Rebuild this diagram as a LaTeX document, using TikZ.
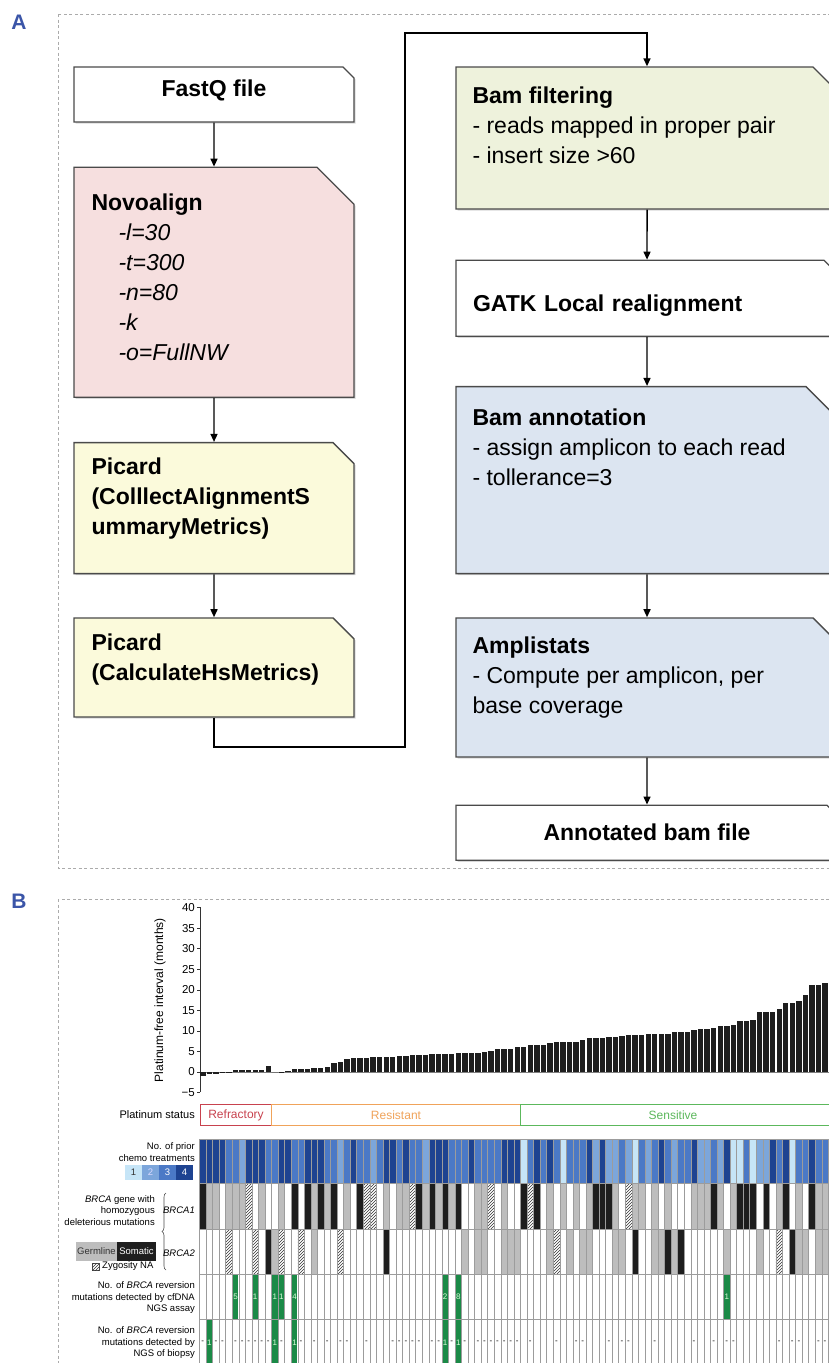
\documentclass[tikz,border=0pt]{standalone}
\usepackage{fontspec}
\setmainfont{Liberation Sans}
\usetikzlibrary{arrows.meta,positioning,shapes.misc,shadows,patterns,decorations.pathreplacing}

\definecolor{panelblue}{HTML}{3B55A8}
\definecolor{framegray}{HTML}{ABABAB}
\definecolor{boxedge}{HTML}{4A4A4A}
\definecolor{novopink}{HTML}{F6DFDF}
\definecolor{picardyellow}{HTML}{FBFADB}
\definecolor{filtgreen}{HTML}{EEF2DC}
\definecolor{annoblue}{HTML}{DCE5F1}
\definecolor{chemoone}{HTML}{C6E5F7}
\definecolor{chemotwo}{HTML}{7CA6DB}
\definecolor{chemothree}{HTML}{4B79C6}
\definecolor{chemofour}{HTML}{1E4391}
\definecolor{germgray}{HTML}{BDBDBD}
\definecolor{somablack}{HTML}{1E1E1E}
\definecolor{gridgray}{HTML}{9C9C9C}
\definecolor{revgreen}{HTML}{1B8A47}
\definecolor{refred}{HTML}{C8424E}
\definecolor{resorange}{HTML}{F0A35A}
\definecolor{sensgreen}{HTML}{5CB85C}

% invisible filler, so that the cut corner is not capped
\newcommand\stepspace[2]{\rule{0pt}{#2}\hspace*{#1}}

\tikzset {
  % pipeline boxes (panel A)
  stepbox/.style = {
    chamfered rectangle,
    chamfered rectangle corners = north east,
    draw = boxedge,
    line width = 1.3pt,
    inner sep = 0pt,
    drop shadow = {shadow xshift = 1.6pt, shadow yshift = -1.6pt, opacity = .3},
    font = \bfseries\fontsize{23}{30}\selectfont
  },
  % size of the cut corner (drawn twice as large)
  dogear/.style = {
    chamfered rectangle xsep = #1,
    chamfered rectangle ysep = #1
  },
  % text block inside a box
  steptext/.style = {
    inner sep = 0pt,
    align = left,
    font = \fontsize{23}{30}\selectfont
  },
  flow/.style = {
    draw = black,
    line width = 1.4pt,
    -{Triangle[length = 8pt, width = 7pt]}
  },
  frame/.style = {
    draw = framegray,
    line width = .8pt,
    dash pattern = on 3pt off 2.5pt
  },
  panel/.style = {
    text = panelblue,
    font = \bfseries\fontsize{21}{21}\selectfont
  }
}
\tikzset {
  % heat map cells (panel B)
  chemo1/.style = {fill = chemoone},
  chemo2/.style = {fill = chemotwo},
  chemo3/.style = {fill = chemothree},
  chemo4/.style = {fill = chemofour},
  mut0/.style = {},
  mut1/.style = {fill = germgray},
  mut2/.style = {fill = somablack},
  mut3/.style = {
    fill = white,
    postaction = {pattern = north east lines, pattern color = black!80}
  },
  cell line/.style = {draw = gridgray, line width = .5pt},
  tick label/.style = {
    anchor = east,
    inner sep = 0pt,
    font = \fontsize{11.5}{12}\selectfont
  },
  row label/.style = {
    inner sep = 0pt,
    align = right,
    font = \fontsize{9.5}{11.6}\selectfont
  },
  status/.style = {
    inner sep = 0pt,
    font = \fontsize{12}{12}\selectfont
  },
  rev count/.style = {
    inner sep = 0pt,
    text = white!85!green,
    font = \fontsize{8}{8}\selectfont
  },
  no biopsy/.style = {
    inner sep = 0pt,
    font = \fontsize{8}{8}\selectfont
  }
}

\begin{document}
\begin{tikzpicture}[x = 1pt, y = -1pt]
  \useasboundingbox (0,0) rectangle (829,1363);
  \clip (0,0) rectangle (829,1363);
  \fill[white] (0,0) rectangle (829,1363);

  % ---------------- panel A ----------------
  \node[panel] (lbl-a) at (19,22) {A};
  \draw[frame] (58,14) rectangle (850,868);

  % left column
  \node[stepbox, dogear = 5.5pt, fill = white, minimum width = 280pt,
    minimum height = 55pt, text height = 16pt, text depth = 13pt]
    (fastq) at (214,94.5) {FastQ file};

  \node[stepbox, dogear = 18.5pt, fill = novopink, minimum width = 280pt,
    minimum height = 230pt] (novo) [below=44pt of fastq] {\stepspace{200pt}{150pt}};
  \node[steptext] (novo-text) [below right=27pt and 18pt of novo.north west]
    {\textbf{Novoalign}\\
     \hspace*{27pt}\textit{-l=30}\\
     \hspace*{27pt}\textit{-t=300}\\
     \hspace*{27pt}\textit{-n=80}\\
     \hspace*{27pt}\textit{-k}\\
     \hspace*{27pt}\textit{-o=FullNW}};

  \node[stepbox, dogear = 10.5pt, fill = picardyellow, minimum width = 280pt,
    minimum height = 131pt] (picard-a) [below=44pt of novo] {\stepspace{200pt}{90pt}};
  \node[steptext, font = \bfseries\fontsize{23}{30}\selectfont] (picard-a-text)
    [below right=16pt and 18pt of picard-a.north west]
    {Picard\\(ColllectAlignmentS\\ummaryMetrics)};

  \node[stepbox, dogear = 10.5pt, fill = picardyellow, minimum width = 280pt,
    minimum height = 99pt] (picard-b) [below=43pt of picard-a] {\stepspace{200pt}{70pt}};
  \node[steptext, font = \bfseries\fontsize{23}{30}\selectfont] (picard-b-text)
    [below right=16pt and 18pt of picard-b.north west]
    {Picard\\(CalculateHsMetrics)};

  % right column
  \node[stepbox, dogear = 12.5pt, fill = filtgreen, minimum width = 382pt,
    minimum height = 142pt] (filt) at (647,138) {\stepspace{300pt}{100pt}};
  \node[steptext] (filt-text) [below right=20pt and 17pt of filt.north west]
    {\textbf{Bam filtering}\\- reads mapped in proper pair\\- insert size >60};

  \node[stepbox, dogear = 7pt, fill = white, minimum width = 382pt,
    minimum height = 76pt, text width = 348pt, align = left,
    text height = 26pt, text depth = 0pt] (gatk) [below=50pt of filt]
    {GATK Local realignment};

  \node[stepbox, dogear = 16pt, fill = annoblue, minimum width = 382pt,
    minimum height = 187pt] (anno) [below=49pt of gatk] {\stepspace{300pt}{140pt}};
  \node[steptext] (anno-text) [below right=23pt and 17pt of anno.north west]
    {\textbf{Bam annotation}\\- assign amplicon to each read\\- tollerance=3};

  \node[stepbox, dogear = 12.5pt, fill = annoblue, minimum width = 382pt,
    minimum height = 139pt] (ampli) [below=43pt of anno] {\stepspace{300pt}{100pt}};
  \node[steptext] (ampli-text) [below right=19pt and 17pt of ampli.north west]
    {\textbf{Amplistats}\\- Compute per amplicon, per\\base coverage};

  \node[stepbox, dogear = 5.5pt, fill = white, minimum width = 382pt,
    minimum height = 55pt] (annot) [below=47pt of ampli] {Annotated bam file};

  \coordinate (rail-low) at (405,747);
  \coordinate (rail-top) at (647,33);

  % main line
  \draw[flow] (fastq) -- (novo);
  \draw[flow] (novo) -- (picard-a);
  \draw[flow] (picard-a) -- (picard-b);
  \draw[flow] (picard-b) |- (rail-low) |- (rail-top) -- (filt);
  \draw[flow] (filt) -- (gatk);
  \draw[flow] (gatk) -- (anno);
  \draw[flow] (anno) -- (ampli);
  \draw[flow] (ampli) -- (annot);

  % ---------------- panel B ----------------
  \node[panel] (lbl-b) at (19,901) {B};
  \draw[frame] (58,899) rectangle (850,1400);

  % y axis
  \draw[black!80, line width = .6pt] (200,907) -- (200,1092);
  \foreach \t/\lab in {40/40,35/35,30/30,25/25,20/20,15/15,10/10,5/5,0/0,-5/−5} {
    \draw[black!80, line width = .6pt] (197,{1072-4.11*\t}) -- (200,{1072-4.11*\t});
    \node[tick label] (tick\t) at (195,{1072-4.11*\t}) {\lab};
  }
  \node[rotate = 90, inner sep = 0pt, font = \fontsize{12}{12}\selectfont]
    (pfi-label) at (160,1000) {Platinum-free interval (months)};
  \draw[gray, line width = .5pt] (200,1072) -- (835,1072);

  % bars
  \foreach \v [count=\i from 0] in {-0.9,-0.5,-0.4,-0.3,-0.2,0.5,0.5,0.5,0.6,0.6,1.4,
      0,0.1,0.3,0.7,0.7,0.8,0.9,0.9,1.2,2.1,2.5,
      3.2,3.5,3.5,3.5,3.6,3.6,3.7,3.7,3.8,4.0,4.1,4.1,
      4.2,4.3,4.3,4.4,4.5,4.6,4.6,4.6,4.6,4.8,5.2,5.5,5.5,5.7,6.0,
      6.2,6.6,6.6,6.6,7.0,7.2,7.4,7.4,7.4,7.8,8.2,8.2,8.2,8.4,8.4,
      8.7,9.0,9.0,9.0,9.2,9.2,9.3,9.3,9.7,9.7,9.7,10.2,10.4,10.4,10.7,
      11.1,11.1,11.5,12.4,12.4,12.7,14.5,14.5,14.5,15.4,16.8,16.8,17.3,18.8,21.1,21.1,21.6,21.6} {
    \fill[somablack] (200.1+6.55*\i,1072) rectangle ++(5.4,{-4.11*(\v)});
  }

  % platinum status
  \node[row label, anchor = east, font = \fontsize{11}{12}\selectfont]
    (status-label) at (195,1115) {Platinum status};
  \draw[refred, line width = 1pt] (200,1104) rectangle (271.5,1125);
  \draw[resorange, line width = 1pt] (271.5,1104) rectangle (520.5,1125);
  \draw[sensgreen, line width = 1pt] (520.5,1104) rectangle (840,1125);
  \node[status, text = refred] (refractory) at (236,1115) {Refractory};
  \node[status, text = resorange] (resistant) at (396,1115) {Resistant};
  \node[status, text = sensgreen] (sensitive) at (673,1115) {Sensitive};

  % prior chemo treatments
  \foreach \c [count=\i from 0] in {4,4,4,4,3,3,2,4,4,4,3,3,4,4,3,3,4,4,4,3,3,2,3,4,3,3,2,3,4,4,3,4,
      3,3,2,4,4,4,3,3,3,4,3,3,3,3,4,4,4,1,3,4,3,4,3,1,3,3,3,4,2,4,2,2,
      3,2,1,3,2,3,4,3,2,3,3,4,2,2,3,2,4,1,1,3,1,2,2,4,3,4,1,3,3,4,3,3,3} {
    \path[chemo\c] (199.5+6.55*\i,1139) rectangle ++(6.55,44);
  }
  % BRCA1
  \foreach \b [count=\i from 0] in {2,1,1,0,1,1,1,3,0,1,0,0,1,0,2,0,2,1,2,1,2,0,1,0,2,3,3,0,1,0,1,1,
      3,2,1,2,1,2,1,2,0,0,1,1,3,0,1,0,0,2,3,2,0,1,0,1,0,1,0,1,2,2,2,1,
      0,3,1,1,0,1,0,1,0,0,0,1,1,1,2,1,0,1,2,2,2,0,2,0,1,2,0,1,0,2,1,1,1} {
    \path[mut\b] (199.5+6.55*\i,1183) rectangle ++(6.55,46);
  }
  % BRCA2
  \foreach \b [count=\i from 0] in {0,0,0,0,3,0,0,0,3,0,2,1,3,0,0,3,0,1,0,0,0,3,0,0,0,0,0,0,2,0,0,0,
      0,0,0,0,0,0,0,0,1,0,1,1,0,0,1,1,1,0,0,0,0,1,3,0,1,0,1,1,0,0,0,1,
      1,0,2,0,0,1,1,2,1,2,0,0,0,0,0,0,1,0,0,0,0,1,0,0,3,0,2,1,1,0,1,1,1} {
    \path[mut\b] (199.5+6.55*\i,1229) rectangle ++(6.55,45);
  }
  % reversion mutations
  \foreach \i/\n in {5/5,8/1,11/1,12/1,14/4,37/2,39/8,80/1} {
    \fill[revgreen] (199.9+6.55*\i,1274) rectangle ++(5.75,45);
  }
  \foreach \i in {1,11,14,37,39} {
    \fill[revgreen] (199.9+6.55*\i,1319) rectangle ++(5.75,50);
  }

  % cell lines
  \foreach \i in {0,...,97} {
    \draw[cell line] (199.5+6.55*\i,1139) -- ++(0,240);
  }
  \foreach \y in {1139,1183,1229,1274,1319} {
    \draw[cell line] (199.5,\y) -- (840,\y);
  }

  \foreach \i/\n in {5/5,8/1,11/1,12/1,14/4,37/2,39/8,80/1} {
    \node[rev count] (cf\i) at (202.8+6.55*\i,1297) {\n};
  }
  \foreach \i in {1,11,14,37,39} {
    \node[rev count] (bx\i) at (202.8+6.55*\i,1342.5) {1};
  }
  \foreach \i in {0,2,3,5,6,7,8,9,10,12,15,17,19,21,22,25,29,30,31,32,33,35,36,38,
      40,42,43,44,45,46,47,48,50,54,57,58,62,64,65,69,75,78,80,81,88,90,91,94,95} {
    \node[no biopsy] (nb\i) at (202.8+6.55*\i,1342) {-};
  }

  % row labels and legends
  \node[row label, anchor = north east] (chemo-label) at (195,1142.5)
    {No. of prior\\chemo treatments};
  \foreach \c/\col [count=\k from 0] in {1/chemoone,2/chemotwo,3/chemothree,4/chemofour} {
    \fill[\col] (125+17*\k,1165) rectangle ++(17,15);
  }
  \node[row label, text = black!80] (key1) at (133.5,1172.5) {1};
  \node[row label, text = white!85!blue] (key2) at (150.5,1172.5) {2};
  \node[row label, text = white] (key3) at (167.5,1172.5) {3};
  \node[row label, text = white] (key4) at (184.5,1172.5) {4};

  \node[row label, anchor = north east] (brca-label) at (155,1195)
    {\textit{BRCA} gene with\\homozygous\\deleterious mutations};
  \draw[black!70, line width = .6pt, decorate, decoration = {brace, amplitude = 4pt}]
    (166,1270) -- (166,1193);
  \node[row label, anchor = east] (brca1-label) at (195,1210) {\textit{BRCA1}};
  \node[row label, anchor = east] (brca2-label) at (195,1253) {\textit{BRCA2}};

  \fill[germgray] (76,1242) rectangle (117,1261);
  \fill[somablack] (117,1242) rectangle (156,1261);
  \node[row label, text = black!80] (germline) at (96.5,1251.5) {Germline};
  \node[row label, text = white] (somatic) at (136.5,1251.5) {Somatic};
  \path[mut3, draw = black!70, line width = .4pt] (92,1263) rectangle (99,1270);
  \node[row label, anchor = west] (zygosity) at (102,1266.5) {Zygosity NA};

  \node[row label, anchor = north east] (cfdna-label) at (195,1281.5)
    {No. of \textit{BRCA} reversion\\mutations detected by cfDNA\\NGS assay};
  \node[row label, anchor = north east] (biopsy-label) at (195,1326.5)
    {No. of \textit{BRCA} reversion\\mutations detected by\\NGS of biopsy};
\end{tikzpicture}
\end{document}
